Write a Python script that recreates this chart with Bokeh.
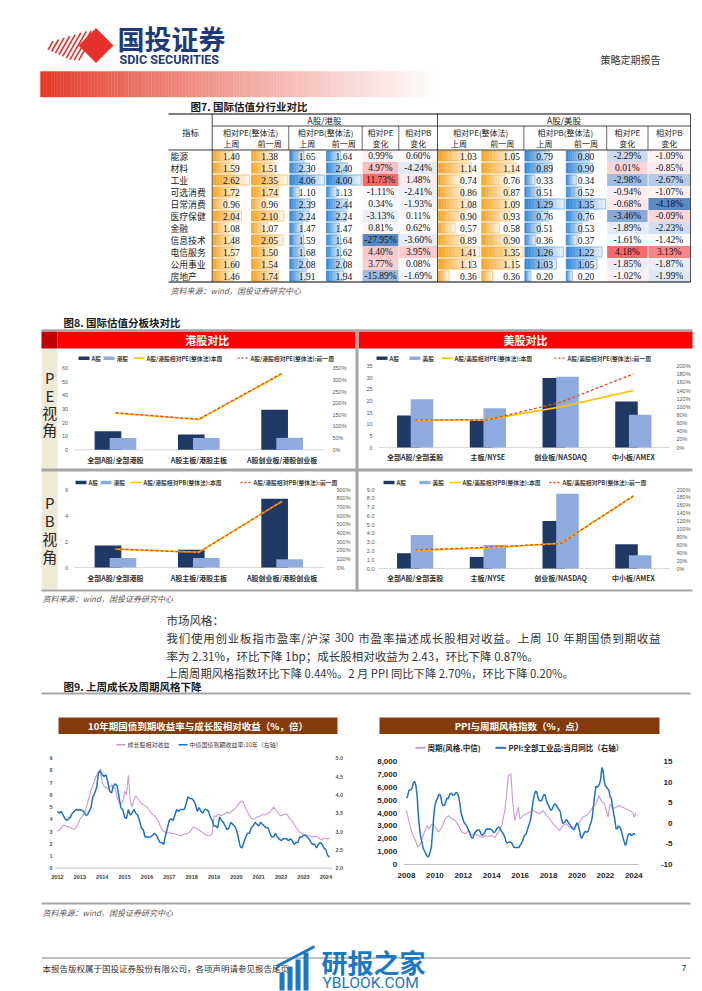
import re
import numpy as np
from bokeh.plotting import figure
from bokeh.models import Range1d, ColumnDataSource
from bokeh.core.properties import value
from bokeh.embed import file_html
from bokeh.resources import INLINE

# ======================= DATA =======================
industries = ["能源", "材料", "工业", "可选消费", "日常消费", "医疗保健", "金融", "信息技术", "电信服务", "公用事业", "房地产"]
hk_pe_last = [1.40, 1.59, 2.62, 1.72, 0.96, 2.04, 1.08, 1.48, 1.57, 1.60, 1.46]
hk_pe_prev = [1.38, 1.51, 2.35, 1.74, 0.96, 2.10, 1.07, 2.05, 1.50, 1.54, 1.74]
hk_pb_last = [1.65, 2.30, 4.06, 1.10, 2.39, 2.24, 1.47, 1.59, 1.68, 2.08, 1.91]
hk_pb_prev = [1.64, 2.40, 4.00, 1.13, 2.44, 2.24, 1.47, 1.64, 1.62, 2.08, 1.94]
hk_pe_chg = [0.99, 4.97, 11.73, -1.11, 0.34, -3.13, 0.81, -27.95, 4.40, 3.77, -15.89]
hk_pb_chg = [0.60, -4.24, 1.48, -2.41, -1.93, 0.11, 0.62, -3.60, 3.95, 0.08, -1.69]
us_pe_last = [1.03, 1.14, 0.74, 0.86, 1.08, 0.90, 0.57, 0.89, 1.41, 1.13, 0.36]
us_pe_prev = [1.05, 1.14, 0.76, 0.87, 1.09, 0.93, 0.58, 0.90, 1.35, 1.15, 0.36]
us_pb_last = [0.79, 0.89, 0.33, 0.51, 1.29, 0.76, 0.51, 0.36, 1.26, 1.03, 0.20]
us_pb_prev = [0.80, 0.90, 0.34, 0.52, 1.35, 0.76, 0.53, 0.37, 1.22, 1.05, 0.20]
us_pe_chg = [-2.29, 0.01, -2.98, -0.94, -0.68, -3.46, -1.89, -1.61, 4.18, -1.85, -1.02]
us_pb_chg = [-1.09, -0.85, -2.67, -1.07, -4.18, -0.09, -2.23, -1.42, 3.13, -1.87, -1.99]

hk_cats = ["全部A股/全部港股", "A股主板/港股主板", "A股创业板/港股创业板"]
us_cats = ["全部A股/全部美股", "主板/NYSE", "创业板/NASDAQ", "中小板/AMEX"]
hk_pe_a = [13.6, 11.2, 29.5]
hk_pe_h = [8.6, 8.6, 8.8]
hk_pe_ratio_now = [157, 130, 326]
hk_pe_ratio_prev = [159, 131, 329]
us_pe_a = [13.8, 11.6, 29.9, 19.8]
us_pe_u = [20.8, 16.9, 30.5, 14.1]
us_pe_ratio_now = [67, 69, 100, 140]
us_pe_ratio_prev = [68, 68, 111, 181]
hk_pb_a = [1.69, 1.37, 5.29]
hk_pb_h = [0.74, 0.74, 0.63]
hk_pb_ratio_now = [212, 176, 765]
hk_pb_ratio_prev = [214, 172, 768]
us_pb_a = [1.74, 1.32, 5.41, 2.76]
us_pb_u = [3.82, 2.69, 8.51, 1.51]
us_pb_ratio_now = [46, 52, 64, 183]
us_pb_ratio_prev = [47, 54, 63, 184]

# monthly, Jan 2012 .. Mar 2024
bond_start = 2012
bond_yield = [
    3.55, 3.50, 3.55, 3.45, 3.35, 3.30, 3.35, 3.40, 3.50, 3.55, 3.60, 3.58,
    3.60, 3.58, 3.55, 3.45, 3.45, 3.55, 3.65, 3.95, 4.05, 4.20, 4.60, 4.65,
    4.55, 4.50, 4.55, 4.35, 4.10, 4.05, 4.25, 4.30, 4.25, 3.95, 3.65, 3.60,
    3.40, 3.35, 3.60, 3.45, 3.50, 3.60, 3.50, 3.45, 3.30, 3.10, 3.05, 2.85,
    2.85, 2.85, 2.85, 2.90, 2.95, 2.90, 2.80, 2.70, 2.70, 2.65, 2.90, 3.10,
    3.30, 3.35, 3.30, 3.45, 3.60, 3.55, 3.60, 3.60, 3.60, 3.75, 3.95, 3.90,
    3.90, 3.85, 3.75, 3.55, 3.65, 3.55, 3.50, 3.60, 3.60, 3.55, 3.40, 3.30,
    3.15, 3.15, 3.10, 3.40, 3.30, 3.25, 3.15, 3.05, 3.10, 3.25, 3.20, 3.15,
    3.05, 2.85, 2.60, 2.55, 2.70, 2.85, 2.95, 2.95, 3.10, 3.15, 3.25, 3.20,
    3.15, 3.25, 3.20, 3.15, 3.10, 3.10, 2.95, 2.85, 2.85, 2.95, 2.85, 2.80,
    2.75, 2.80, 2.80, 2.80, 2.75, 2.80, 2.75, 2.65, 2.70, 2.70, 2.85, 2.85,
    2.90, 2.90, 2.85, 2.80, 2.70, 2.65, 2.65, 2.55, 2.65, 2.70, 2.65, 2.55,
    2.50, 2.35, 2.30]
growth_rel = [
    3.05, 3.10, 3.30, 3.50, 3.50, 3.40, 3.40, 3.30, 3.20, 3.20, 3.30, 3.60,
    4.00, 4.20, 4.40, 4.70, 5.30, 5.80, 6.40, 6.80, 7.20, 7.60, 7.90, 8.10,
    7.00, 6.70, 6.60, 6.50, 6.60, 6.80, 6.60, 6.50, 5.80, 5.40, 5.30, 5.40,
    6.30, 6.00, 7.60, 5.60, 5.00, 5.60, 5.90, 5.70, 5.50, 5.30, 5.20, 5.10,
    5.00, 4.80, 4.60, 4.40, 4.30, 4.10, 3.90, 3.50, 3.20, 3.00, 2.95, 2.90,
    2.90, 2.85, 2.85, 2.80, 2.75, 2.70, 2.65, 2.70, 2.75, 2.80, 2.85, 2.95,
    3.20, 3.35, 3.30, 3.20, 3.10, 3.00, 2.90, 2.80, 2.70, 2.65, 2.70, 2.80,
    4.30, 4.20, 4.40, 4.35, 4.30, 4.40, 4.50, 4.60, 4.50, 4.60, 4.70, 4.85,
    5.00, 5.20, 5.40, 5.50, 5.30, 4.90, 4.60, 4.30, 4.10, 4.00, 4.10, 4.20,
    4.20, 4.30, 4.40, 4.35, 4.40, 4.50, 4.60, 4.80, 5.00, 4.80, 4.60, 4.40,
    4.30, 4.35, 4.40, 4.45, 4.20, 4.00, 3.85, 3.60, 3.35, 3.10, 2.95, 2.85,
    2.80, 2.75, 2.70, 2.65, 2.60, 2.55, 2.60, 2.60, 2.55, 2.40, 2.30, 2.45,
    2.45, 2.40, 2.43]
bond_years = list(range(2012, 2025))
bond_left_ticks = list(range(0, 10))
bond_right_ticks = [2.0, 2.5, 3.0, 3.5, 4.0, 4.5, 5.0]

# monthly, Jan 2008 .. Feb 2024
ppi_start = 2008
ppi_yoy = [
    6.1, 6.6, 8.0, 8.1, 8.2, 8.8, 10.0, 10.1, 9.1, 6.6, 2.0, -1.1,
    -3.3, -4.5, -6.0, -6.6, -7.2, -7.8, -8.2, -7.9, -7.0, -5.8, -2.1, 1.7,
    4.3, 5.4, 5.9, 6.8, 7.1, 6.4, 4.8, 4.3, 4.3, 5.0, 6.1, 5.9,
    6.6, 7.2, 7.3, 6.8, 6.8, 7.1, 7.5, 7.3, 6.5, 5.0, 2.7, 1.7,
    0.7, 0.0, -0.3, -0.7, -1.4, -2.1, -2.9, -3.5, -3.6, -2.8, -2.2, -1.9,
    -1.6, -1.6, -1.9, -2.6, -2.9, -2.7, -2.3, -1.6, -1.3, -1.5, -1.4, -1.4,
    -1.6, -2.0, -2.3, -2.0, -1.4, -1.1, -0.9, -1.2, -1.8, -2.2, -2.7, -3.3,
    -4.3, -4.8, -4.6, -4.6, -4.6, -4.8, -5.4, -5.9, -5.9, -5.9, -5.9, -5.9,
    -5.3, -4.9, -4.3, -3.4, -2.8, -2.6, -1.7, -0.8, 0.1, 1.2, 3.3, 5.5,
    6.9, 7.8, 7.6, 6.4, 5.5, 5.5, 5.5, 6.3, 6.9, 6.9, 5.8, 4.9,
    4.3, 3.7, 3.1, 3.4, 4.1, 4.7, 4.6, 4.1, 3.6, 3.3, 2.7, 0.9,
    0.1, 0.1, 0.4, 0.9, 0.6, 0.0, -0.3, -0.8, -1.2, -1.6, -1.4, -0.5,
    0.1, -0.4, -1.5, -3.1, -3.7, -3.0, -2.4, -2.0, -2.1, -2.1, -1.5, -0.4,
    0.3, 1.7, 4.4, 6.8, 9.0, 8.8, 9.0, 9.5, 10.7, 13.5, 12.9, 10.3,
    9.1, 8.8, 8.3, 8.0, 6.4, 6.1, 4.2, 2.3, 0.9, -1.3, -1.3, -0.7,
    -0.8, -1.4, -2.5, -3.6, -4.6, -5.4, -4.4, -3.0, -2.5, -2.6, -3.0, -2.7,
    -2.5, -2.7]
cyc_time = [2008.0, 2008.16, 2008.40, 2008.63, 2008.79, 2008.98, 2009.21, 2009.45, 2009.56, 2009.80,
            2010.03, 2010.26, 2010.50, 2010.73, 2010.96, 2011.20, 2011.43, 2011.66, 2011.90, 2012.13,
            2012.36, 2012.60, 2012.83, 2013.06, 2013.30, 2013.53, 2013.77, 2014.00, 2014.23, 2014.47,
            2014.70, 2014.93, 2015.05, 2015.17, 2015.35, 2015.47, 2015.63, 2015.87, 2015.98, 2016.22,
            2016.45, 2016.68, 2016.92, 2017.15, 2017.38, 2017.62, 2017.85, 2018.08, 2018.32, 2018.55,
            2018.78, 2019.02, 2019.25, 2019.48, 2019.83, 2020.18, 2020.42, 2020.65, 2020.88, 2021.12,
            2021.35, 2021.54, 2021.70, 2021.93, 2022.10, 2022.19, 2022.33, 2022.52, 2022.75, 2022.98,
            2023.22, 2023.45, 2023.68, 2023.92, 2024.03, 2024.15]
cyc_index = [4200, 3400, 2400, 1860, 1350, 1600, 2380, 3030, 2770, 3160,
             2900, 2510, 2900, 3550, 3800, 3550, 3420, 3030, 2500, 2380,
             2640, 2250, 2380, 2250, 2120, 2250, 2170, 2250, 2120, 2500,
             3030, 4200, 5490, 6900, 7040, 4970, 3420, 4450, 3550, 3800,
             3940, 4060, 4190, 4060, 3940, 4190, 3800, 3550, 3160, 2900,
             2640, 3030, 3160, 2900, 2900, 3290, 3680, 3800, 4060, 4450,
             4710, 5360, 4970, 4710, 4060, 3680, 4710, 4320, 4450, 4580,
             4450, 4320, 4190, 4060, 3680, 4060]
ppi_years = list(range(2008, 2025, 2))
ppi_left_ticks = list(range(0, 8001, 1000))
ppi_right_ticks = [-10, -5, 0, 5, 10, 15]

# ======================= PAGE =======================
W, H = 702, 991
p = figure(width=W, height=H, x_range=Range1d(0, W), y_range=Range1d(H, 0),
           output_backend="svg", toolbar_location=None, min_border=0,
           x_axis_location=None, y_axis_location=None)
p.grid.visible = False
p.outline_line_color = None
p.background_fill_color = "white"

CJK = "Noto Sans CJK SC"
SERIF = "Liberation Serif"
SANS = "Liberation Sans"


def add_x(name, d0, p0, d1, p1):
    k = (d1 - d0) / (p1 - p0)
    p.extra_x_ranges = {**p.extra_x_ranges, name: Range1d(start=d0 + (0 - p0) * k, end=d0 + (W - p0) * k)}


def add_y(name, d0, p0, d1, p1):
    k = (d1 - d0) / (p1 - p0)
    p.extra_y_ranges = {**p.extra_y_ranges, name: Range1d(start=d0 + (H - p0) * k, end=d0 + (0 - p0) * k)}


def aslist(v, n):
    if isinstance(v, (list, tuple, np.ndarray)):
        return list(v)
    return [v] * n


def T(x, y, t, size=9, color="#222222", font=CJK, align="left", base="middle", style="normal",
      xr="default", yr="default"):
    t = list(t) if isinstance(t, (list, tuple)) else [t]
    n = len(t)
    src = ColumnDataSource(dict(x=aslist(x, n), y=aslist(y, n), t=t))
    p.text(x="x", y="y", text="t", source=src, text_font=value(font), text_font_size=value(f"{size}px"),
           text_color=color, text_align=align, text_baseline=base, text_font_style=style,
           x_range_name=xr, y_range_name=yr)


def Q(l, r, t, b, color, xr="default", yr="default", seam=True):
    n = max(len(v) if isinstance(v, (list, tuple, np.ndarray)) else 1 for v in (l, r, t, b, color))
    src = ColumnDataSource(dict(l=aslist(l, n), r=aslist(r, n), t=aslist(t, n), b=aslist(b, n),
                                fillc=aslist(color, n)))
    p.quad(left="l", right="r", top="t", bottom="b", source=src, fill_color="fillc",
           line_color="fillc" if seam else None, line_width=0.4, x_range_name=xr, y_range_name=yr)


def S(x0, y0, x1, y1, color="#A6A6A6", width=1.0, dash="solid", xr="default", yr="default"):
    p.segment(x0=[x0], y0=[y0], x1=[x1], y1=[y1], line_color=color, line_width=width,
              line_dash=value(dash), x_range_name=xr, y_range_name=yr)


def justify(s, x0, x1, y, size, color):
    toks = re.findall(r"[!-~]+| |.", s)
    ws = []
    for tk in toks:
        if tk == " ":
            ws.append(0.25 * size)
        elif ord(tk[0]) > 0x2E80:
            ws.append(1.0 * size)
        else:
            ws.append(sum(0.38 if c in "/.,;:" else 0.56 for c in tk) * size)
    extra = (x1 - x0 - sum(ws)) / (len(toks) - 1)
    xs, x = [], x0
    for w in ws:
        xs.append(x)
        x += w + extra
    T(xs, y, toks, size=size, color=color)


def rgb(h):
    h = h.lstrip("#")
    return tuple(int(h[i:i + 2], 16) for i in (0, 2, 4))


def mix(c1, c2, t):
    t = max(0.0, min(1.0, t))
    return "#%02x%02x%02x" % tuple(int(round(a + (b - a) * t)) for a, b in zip(c1, c2))


WHITE = (255, 255, 255)

# ---------------- header ----------------
p.patch([78, 95.5, 113, 95.5], [45, 27.5, 45, 62.5], fill_color="#E5322D", line_color=None)
for k in range(9):
    xm = 50 + 4.6 * k
    hl = min(17.0, 5 + 1.9 * k)
    dx, dy = 0.5, 0.866
    S(xm - hl * dx, 45 + hl * dy, xm + hl * dx, 45 - hl * dy, color="#E5322D", width=1.6)
nseg = 140
gx = np.linspace(40, 438, nseg + 1)
Q(list(gx[:-1]), list(gx[1:]), 71, 96.5,
  [mix((226, 52, 34), WHITE, ((i + 0.5) / nseg) ** 0.85) for i in range(nseg)])
T(117, 37.5, "国投证券", size=27, color="#1F3A78", style="bold")
T(119, 58.5, "SDIC SECURITIES", size=12.5, color="#1F3A78", style="bold", font="Roboto")
T(660, 59, "策略定期报告", size=10, color="#333333", align="right")

# ---------------- table (图7) ----------------
T(190, 106, "图7. 国际估值分行业对比", size=10.5, style="bold", color="#1a1a1a")
col_edges = [168, 211.7, 250, 288.3, 325, 361.7, 398.3, 437, 480.2, 523.4, 564.8, 606.2, 647.5, 690]
ccen = [(col_edges[i] + col_edges[i + 1]) / 2 for i in range(13)]
add_y("tbl", 0, 155.5, 10, 275.5)
rows = list(range(len(industries)))
ORANGE = rgb("#F6A421")
BLUEB = rgb("#2F84D8")

bar_specs = [(1, hk_pe_last, ORANGE), (2, hk_pe_prev, ORANGE), (3, hk_pb_last, BLUEB), (4, hk_pb_prev, BLUEB),
             (7, us_pe_last, ORANGE), (8, us_pe_prev, ORANGE), (9, us_pb_last, BLUEB), (10, us_pb_prev, BLUEB)]
N = 12
for ci, vals, base in bar_specs:
    name = f"bar{ci}"
    add_x(name, 0, col_edges[ci] + 1, max(vals), col_edges[ci + 1] - 1)
    L, R, TT, B, C = [], [], [], [], []
    for i, v in enumerate(vals):
        for j in range(N):
            L.append(v * j / N)
            R.append(v * (j + 1) / N)
            TT.append(i - 0.42)
            B.append(i + 0.42)
            C.append(mix(base, WHITE, 0.92 * (j + 0.5) / N))
    Q(L, R, TT, B, C, xr=name, yr="tbl")
    p.quad(left=[0] * len(vals), right=vals, top=[i - 0.42 for i in rows], bottom=[i + 0.42 for i in rows],
           fill_color=None, line_color="#%02x%02x%02x" % base, line_width=0.6, line_alpha=0.8,
           x_range_name=name, y_range_name="tbl")

RED3, MID3, BLU3 = (248, 105, 107), (252, 252, 255), (90, 138, 198)


def scale3(allv):
    lo, hi, md = min(allv), max(allv), float(np.median(allv))

    def f(v):
        if v >= md:
            return mix(MID3, RED3, (v - md) / (hi - md))
        return mix(MID3, BLU3, (md - v) / (md - lo))
    return f


for group, cols in (((hk_pe_chg, hk_pb_chg), (5, 6)), ((us_pe_chg, us_pb_chg), (11, 12))):
    f = scale3(list(group[0]) + list(group[1]))
    for vals, ci in zip(group, cols):
        Q(col_edges[ci] + 0.4, col_edges[ci + 1] - 0.4, [i - 0.5 for i in rows], [i + 0.5 for i in rows],
          [f(v) for v in vals], yr="tbl", seam=False)

# table lines
LC = "#000000"
S(168, 113.5, 690, 113.5, LC, 1.1)
S(211.7, 125.5, 690, 125.5, LC, 0.7)
S(168, 149.5, 690, 149.5, LC, 0.8)
S(168, 281.5, 690, 281.5, LC, 1.1)
for xv in (211.7, 437, 690):
    S(xv, 113.5, xv, 281.5, LC, 0.7)
for xv in (288.3, 361.7, 398.3, 523.4, 606.2, 647.5):
    S(xv, 125.5, xv, 149.5, LC, 0.6)

# table text
HC = "#222222"
T(190, 131.5, "指标", size=8.5, color=HC, align="center")
T(324, 119.5, "A股/港股", size=8.5, color=HC, align="center")
T(563.5, 119.5, "A股/美股", size=8.5, color=HC, align="center")
for off in (0, 6):
    e = col_edges
    T((e[1 + off] + e[3 + off]) / 2, 131.5, "相对PE(整体法)", size=8, color=HC, align="center")
    T((e[3 + off] + e[5 + off]) / 2, 131.5, "相对PB(整体法)", size=8, color=HC, align="center")
    T(ccen[5 + off], 131.5, "相对PE", size=8, color=HC, align="center")
    T(ccen[6 + off], 131.5, "相对PB", size=8, color=HC, align="center")
    T([ccen[1 + off], ccen[2 + off], ccen[3 + off], ccen[4 + off], ccen[5 + off], ccen[6 + off]], 143,
      ["上周", "前一周", "上周", "前一周", "变化", "变化"], size=8, color=HC, align="center")

T(170, rows, industries, size=8.8, color=HC, yr="tbl")
for ci, vals in ((1, hk_pe_last), (2, hk_pe_prev), (3, hk_pb_last), (4, hk_pb_prev),
                 (9, us_pb_last), (10, us_pb_prev)):
    T(ccen[ci], rows, [f"{v:.2f}" for v in vals], size=9.5, font=SERIF, color="#111111", align="center", yr="tbl")
for ci, vals in ((7, us_pe_last), (8, us_pe_prev)):
    T(col_edges[ci + 1] - 4, rows, [f"{v:.2f}" for v in vals], size=9.5, font=SERIF, color="#111111",
      align="right", yr="tbl")
for ci, vals in ((5, hk_pe_chg), (6, hk_pb_chg), (11, us_pe_chg), (12, us_pb_chg)):
    T(ccen[ci], rows, [f"{v:.2f}%" for v in vals], size=9.5, font=SERIF, color="#111111", align="center", yr="tbl")
T(170, 290, "资料来源：wind，国投证券研究中心", size=8, style="italic", color="#595959")

# ---------------- 图8 panel ----------------
T(63, 321.5, "图8. 国际估值分板块对比", size=10.5, style="bold", color="#1a1a1a")
GRAY = "#A6A6A6"
PR = 692  # panel right edge
Q(41, 57, 348, 589, "#EFE9D8", seam=False)
Q(41, 57, 331, 348, "#C00000", seam=False)
Q(57, 355, 331, 348, "#FF0000", seam=False)
Q(358, PR, 331, 348, "#FF0000", seam=False)
S(41, 329.8, PR, 329.8, GRAY, 2)
S(41, 469.5, PR, 469.5, GRAY, 3)
S(356.5, 329, 356.5, 591, GRAY, 3)
S(41, 590, PR, 590, GRAY, 2)
T(206.7, 339.8, "港股对比", size=11, color="white", style="bold", align="center")
T(525, 339.8, "美股对比", size=11, color="white", style="bold", align="center")
T(49.3, [377, 395, 412, 429], ["P", "E", "视", "角"], size=15, color="#262626", align="center")
T(49.3, [502, 520, 538, 556], ["P", "B", "视", "角"], size=15, color="#262626", align="center")

NAVY = "#1F3864"
LIGHT = "#8FAADC"
YEL = "#FFC000"
DASHC = "#E04A26"


def bar_panel(key, cats, a_vals, b_vals, r_now, r_prev, xpix, y0, ytop, lmax, rmax,
              lticks, ltxt, rticks, rtxt, lx, rx, cat_y, bw, off, ly, lxs, ltexts):
    n = len(cats)
    idx = list(range(n))
    add_x(key + "x", -0.5, xpix[0], n - 0.5, xpix[1])
    add_y(key + "l", 0, y0, lmax, ytop)
    add_y(key + "r", 0, y0, rmax, ytop)
    S(-0.5, 0, n - 0.5, 0, "#D9D9D9", 1, xr=key + "x", yr=key + "l")
    p.vbar(x=[i - off for i in idx], width=bw, top=a_vals, bottom=0, fill_color=NAVY, line_color=None,
           x_range_name=key + "x", y_range_name=key + "l")
    p.vbar(x=[i + off for i in idx], width=bw, top=b_vals, bottom=0, fill_color=LIGHT, line_color=None,
           x_range_name=key + "x", y_range_name=key + "l")
    p.line(idx, r_now, line_color=YEL, line_width=1.6, x_range_name=key + "x", y_range_name=key + "r")
    p.line(idx, r_prev, line_color=DASHC, line_width=1.3, line_dash="3 2",
           x_range_name=key + "x", y_range_name=key + "r")
    T(lx, lticks, ltxt, size=5.5, font=SANS, color="#595959", align="right", yr=key + "l")
    T(rx, rticks, rtxt, size=5.5, font=SANS, color="#595959", align="left", yr=key + "r")
    T(idx, cat_y, cats, size=7, color="#333333", style="bold", align="center", xr=key + "x")
    # legend
    Q(lxs[0], lxs[0] + 11, ly - 1.7, ly + 1.7, NAVY, seam=False)
    Q(lxs[1], lxs[1] + 11, ly - 1.7, ly + 1.7, LIGHT, seam=False)
    S(lxs[2], ly, lxs[2] + 11, ly, YEL, 1.5)
    S(lxs[3], ly, lxs[3] + 11, ly, DASHC, 1.3, dash="2 2")
    T([x + 13 for x in lxs], ly, ltexts, size=5.8, color="#404040", style="bold")


hk_pe_lt = list(range(0, 61, 10))
hk_pe_rt = list(range(0, 351, 50))
bar_panel("hkpe", hk_cats, hk_pe_a, hk_pe_h, hk_pe_ratio_now, hk_pe_ratio_prev, (73.3, 323.3), 449.3, 367.7,
          60, 350, hk_pe_lt, [str(v) for v in hk_pe_lt], hk_pe_rt, [f"{v}%" for v in hk_pe_rt],
          67.5, 332, 459, 0.32, 0.09, 357.7, [78, 103, 133, 237],
          ["A股", "港股", "A股/港股相对PE(整体法)本周", "A股/港股相对PE(整体法):前一周"])
us_pe_lt = list(range(0, 36, 5))
us_pe_rt = list(range(0, 201, 20))
bar_panel("uspe", us_cats, us_pe_a, us_pe_u, us_pe_ratio_now, us_pe_ratio_prev, (378.3, 669.2), 447, 365.7,
          35, 200, us_pe_lt, [str(v) for v in us_pe_lt], us_pe_rt, [f"{v}%" for v in us_pe_rt],
          372, 676, 456, 0.31, 0.094, 357.7, [376, 409, 441, 554],
          ["A股", "美股", "A股/美股相对PE(整体法):本周", "A股/美股相对PE(整体法):前一周"])
hk_pb_lt = [0, 2, 4, 6]
hk_pb_rt = list(range(0, 901, 100))
bar_panel("hkpb", hk_cats, hk_pb_a, hk_pb_h, hk_pb_ratio_now, hk_pb_ratio_prev, (73.3, 323.3), 567, 489,
          6, 900, hk_pb_lt, [str(v) for v in hk_pb_lt], hk_pb_rt, [f"{v}%" for v in hk_pb_rt],
          67.5, 336, 577, 0.32, 0.09, 482, [75, 100, 130, 240],
          ["A股", "港股", "A股/港股相对PB(整体法):本周", "A股/港股相对PB(整体法):前一周"])
us_pb_lt = [float(v) for v in range(0, 10)]
us_pb_rt = list(range(0, 201, 20))
bar_panel("uspb", us_cats, us_pb_a, us_pb_u, us_pb_ratio_now, us_pb_ratio_prev, (378.3, 669.2), 568, 489,
          9, 200, us_pb_lt, [f"{v:.1f}" for v in us_pb_lt], us_pb_rt, [f"{v}%" for v in us_pb_rt],
          374, 676, 577.5, 0.31, 0.094, 482, [383, 419, 449, 549],
          ["A股", "美股", "A股/美股相对PB(整体法):本周", "A股/美股相对PB(整体法):前一周"])
T(42, 597.5, "资料来源：wind，国投证券研究中心", size=8, style="italic", color="#595959")

# ---------------- paragraph ----------------
PC = "#333333"
T(166, 619, "市场风格：", size=11.5, color=PC)
justify("我们使用创业板指市盈率/沪深 300 市盈率描述成长股相对收益。上周 10 年期国债到期收益", 166, 660, 637, 11.5, PC)
T(166, 655, "率为 2.31%，环比下降 1bp；成长股相对收益为 2.43，环比下降 0.87%。", size=11.5, color=PC)
T(166, 672.5, "上周周期风格指数环比下降 0.44%。2 月 PPI 同比下降 2.70%，环比下降 0.20%。", size=11.3, color=PC)
T(63, 686, "图9. 上周成长及周期风格下降", size=10.5, style="bold", color="#1a1a1a")
S(41, 693, 690, 693, GRAY, 2)

# ---------------- bottom-left line chart ----------------
BROWN = "#843C0C"
PURP = "#C99AD3"
BLUEL = "#1F72C4"
Q(58, 337, 717, 733.5, BROWN, seam=False)
T(197.5, 725.3, "10年期国债到期收益率与成长股相对收益（%，倍）", size=9.5, color="white", style="bold", align="center")
S(116, 744.3, 125, 744.3, PURP, 1.5)
T(127, 744.3, "成长股相对收益", size=6, color="#404040")
S(178, 744.3, 187, 744.3, BLUEL, 1.5)
T(189, 744.3, "中债国债到期收益率:10年（右轴）", size=6, color="#404040")
add_x("bx", 2012, 57, 2024, 57 + 12 * 22.36)
add_y("bl", 0, 867.7, 9, 757.7)
add_y("br", 2.0, 867.7, 5.0, 757.7)
bt = [bond_start + i / 12 for i in range(len(bond_yield))]
S(2011.9, 0, 2024.3, 0, "#BFBFBF", 1, xr="bx", yr="bl")
p.line(bt, growth_rel, line_color=PURP, line_width=1.1, x_range_name="bx", y_range_name="bl")
p.line(bt, bond_yield, line_color=BLUEL, line_width=1.5, x_range_name="bx", y_range_name="br")
T(bond_years, 876.5, [str(y) for y in bond_years], size=5.5, font=SANS, color="#404040", style="bold",
  align="center", xr="bx")
T(52, bond_left_ticks, [str(v) for v in bond_left_ticks], size=5.5, font=SANS, color="#595959",
  style="bold", align="right", yr="bl")
T(335, bond_right_ticks, [f"{v:.1f}" for v in bond_right_ticks], size=5.5, font=SANS, color="#595959",
  style="bold", align="left", yr="br")

# ---------------- bottom-right line chart ----------------
Q(379, 659, 717, 733.5, BROWN, seam=False)
T(519, 725.3, "PPI与周期风格指数（%，点）", size=9.5, color="white", style="bold", align="center")
S(415, 747.3, 425, 747.3, PURP, 2)
T(427, 747.3, "周期(风格.中信)", size=7.5, color="#262626", style="bold")
S(495, 747.3, 505.7, 747.3, BLUEL, 2)
T(508, 747.3, "PPI:全部工业品:当月同比（右轴）", size=7.5, color="#262626", style="bold")
add_x("px", 2008, 406, 2024, 633.3)
add_y("pl", 0, 864, 8000, 761)
add_y("pr", -10, 864, 15, 761)
pt = [ppi_start + i / 12 for i in range(len(ppi_yoy))]
S(2007.8, 0, 2024.3, 0, "#BFBFBF", 1, xr="px", yr="pl")
p.line(cyc_time, cyc_index, line_color=PURP, line_width=1.1, x_range_name="px", y_range_name="pl")
p.line(pt, ppi_yoy, line_color=BLUEL, line_width=1.5, x_range_name="px", y_range_name="pr")
T(ppi_years, 875, [str(y) for y in ppi_years], size=8, font=SANS, color="#262626", style="bold",
  align="center", xr="px")
T(396.7, ppi_left_ticks, [f"{v:,}" for v in ppi_left_ticks], size=8, font=SANS, color="#262626",
  style="bold", align="right", yr="pl")
T(672, ppi_right_ticks, [str(v) for v in ppi_right_ticks], size=8, font=SANS, color="#262626",
  style="bold", align="right", yr="pr")

# ---------------- footer ----------------
S(41, 903, 690, 903, GRAY, 2)
T(42, 911.5, "资料来源：wind，国投证券研究中心", size=8, style="italic", color="#595959")
S(41, 957.5, 690, 957.5, "#808080", 1)
T(42, 967, "本报告版权属于国投证券股份有限公司，各项声明请参见报告尾页。", size=8.5, color="#333333")
T(686, 967, "7", size=9, color="#333333", align="right", font=SANS)
# watermark
WM = "#1B78C2"
Q([279, 287, 295, 303], [284, 292, 300, 308], [972, 966, 959, 952], [990, 990, 990, 990], WM, seam=False)
S(276, 966, 314, 946, WM, 3)
T(321, 961, "研报之家", size=26, color=WM, style="bold")
T(322, 982.5, "YBLOOK.COM", size=15.5, color=WM, font="Roboto")

open("out.html", "w").write(file_html(p, INLINE))
